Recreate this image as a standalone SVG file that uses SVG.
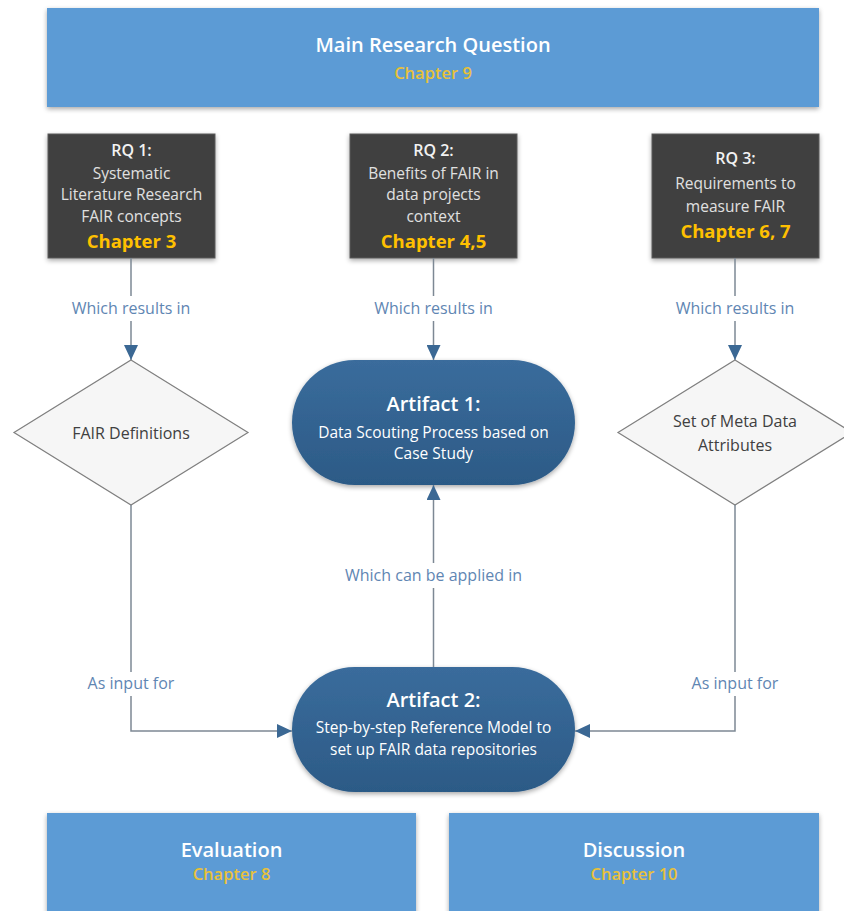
<svg xmlns="http://www.w3.org/2000/svg" width="844" height="911" viewBox="0 0 844 911">
  <defs>
    <filter id="shadow" x="-10%" y="-10%" width="120%" height="130%">
      <feGaussianBlur in="SourceAlpha" stdDeviation="2.5"/>
      <feOffset dx="0" dy="2" result="b"/>
      <feComponentTransfer><feFuncA type="linear" slope="0.35"/></feComponentTransfer>
      <feMerge><feMergeNode/><feMergeNode in="SourceGraphic"/></feMerge>
    </filter>
    <linearGradient id="artGrad" x1="0" y1="0" x2="0" y2="1">
      <stop offset="0" stop-color="#3a6c9c"/>
      <stop offset="1" stop-color="#2c5a86"/>
    </linearGradient>
    <marker id="arrow" markerWidth="15" markerHeight="14" refX="15" refY="7" orient="auto" markerUnits="userSpaceOnUse">
      <path d="M0,0 L15,7 L0,14 Z" fill="#3b6894"/>
    </marker>
    <style>
      .blue { fill: #5b9bd5; }
      .dark { fill: #404040; stroke: #5a5a5a; stroke-width: 1; }
      .diamond { fill: #f6f6f6; stroke: #7f7f7f; stroke-width: 1.2; }
      .art { fill: url(#artGrad); }
      .conn { fill: none; stroke: #7d8894; stroke-width: 1.5; }
      .t { font-family: "Open Sans", "Noto Sans", sans-serif; text-anchor: middle; }
      .head { font-size: 20px; font-weight: 600; fill: #ffffff; }
      .chap { font-size: 16.5px; font-weight: 600; fill: #e8c13a; }
      .rqh { font-size: 16px; font-weight: 600; fill: #f2f2f2; }
      .rq { font-size: 15.5px; fill: #e0e0e0; }
      .rqc { font-size: 18.5px; font-weight: bold; fill: #ffc000; }
      .artH { font-size: 20px; font-weight: 600; fill: #ffffff; }
      .artT { font-size: 15.5px; fill: #ffffff; }
      .lbl { font-size: 16px; fill: #5f86b3; }
      .dia { font-size: 16px; fill: #404040; }
    </style>
  </defs>

  <rect width="844" height="911" fill="#ffffff"/>

  <!-- Main research question -->
  <g id="main-question">
    <rect class="blue" x="47" y="8" width="772" height="99" filter="url(#shadow)"/>
    <text class="t head" x="433" y="52">Main Research Question</text>
    <text class="t chap" x="433" y="79">Chapter 9</text>
  </g>

  <!-- Sub research questions -->
  <g id="rq1">
    <rect class="dark" x="48" y="134" width="167" height="124" filter="url(#shadow)"/>
    <text class="t rqh" x="131.5" y="156">RQ 1:</text>
    <text class="t rq" x="131.5" y="179">Systematic</text>
    <text class="t rq" x="131.5" y="200">Literature Research</text>
    <text class="t rq" x="131.5" y="222">FAIR concepts</text>
    <text class="t rqc" x="131.5" y="248">Chapter 3</text>
  </g>
  <g id="rq2">
    <rect class="dark" x="350" y="134" width="167" height="124" filter="url(#shadow)"/>
    <text class="t rqh" x="433.5" y="156">RQ 2:</text>
    <text class="t rq" x="433.5" y="179">Benefits of FAIR in</text>
    <text class="t rq" x="433.5" y="200">data projects</text>
    <text class="t rq" x="433.5" y="222">context</text>
    <text class="t rqc" x="433.5" y="248">Chapter 4,5</text>
  </g>
  <g id="rq3">
    <rect class="dark" x="652" y="134" width="167" height="124" filter="url(#shadow)"/>
    <text class="t rqh" x="735.5" y="164">RQ 3:</text>
    <text class="t rq" x="735.5" y="189">Requirements to</text>
    <text class="t rq" x="735.5" y="212">measure FAIR</text>
    <text class="t rqc" x="735.5" y="238">Chapter 6, 7</text>
  </g>

  <!-- Outcomes -->
  <g id="fair-definitions">
    <polygon class="diamond" points="131,360 248,432.5 131,505 14,432.5"/>
    <text class="t dia" x="131" y="439">FAIR Definitions</text>
  </g>
  <g id="meta-data-attributes">
    <polygon class="diamond" points="735,360 852,432.5 735,505 618,432.5"/>
    <text class="t dia" x="735" y="427">Set of Meta Data</text>
    <text class="t dia" x="735" y="451">Attributes</text>
  </g>
  <g id="artifact1">
    <rect class="art" x="292" y="360" width="283" height="125" rx="62.5" ry="62.5" filter="url(#shadow)"/>
    <text class="t artH" x="433.5" y="411">Artifact 1:</text>
    <text class="t artT" x="433.5" y="438">Data Scouting Process based on</text>
    <text class="t artT" x="433.5" y="459">Case Study</text>
  </g>
  <g id="artifact2">
    <rect class="art" x="292" y="667" width="283" height="125" rx="62.5" ry="62.5" filter="url(#shadow)"/>
    <text class="t artH" x="433.5" y="707">Artifact 2:</text>
    <text class="t artT" x="433.5" y="733">Step-by-step Reference Model to</text>
    <text class="t artT" x="433.5" y="755">set up FAIR data repositories</text>
  </g>

  <!-- Evaluation and discussion -->
  <g id="evaluation">
    <rect class="blue" x="47" y="813" width="369" height="110" filter="url(#shadow)"/>
    <text class="t head" x="231.5" y="857">Evaluation</text>
    <text class="t chap" x="231.5" y="880">Chapter 8</text>
  </g>
  <g id="discussion">
    <rect class="blue" x="449" y="813" width="370" height="110" filter="url(#shadow)"/>
    <text class="t head" x="634" y="857">Discussion</text>
    <text class="t chap" x="634" y="880">Chapter 10</text>
  </g>

  <!-- Connectors -->
  <g id="connectors">
    <path class="conn" d="M131,258 V296"/>
    <path class="conn" d="M131,321 V360" marker-end="url(#arrow)"/>
    <path class="conn" d="M433.5,258 V296"/>
    <path class="conn" d="M433.5,321 V360" marker-end="url(#arrow)"/>
    <path class="conn" d="M735,258 V296"/>
    <path class="conn" d="M735,321 V360" marker-end="url(#arrow)"/>

    <path class="conn" d="M433.5,667 V588"/>
    <path class="conn" d="M433.5,563 V485" marker-end="url(#arrow)"/>

    <path class="conn" d="M131,505 V672"/>
    <path class="conn" d="M131,696 V731 H292" marker-end="url(#arrow)"/>
    <path class="conn" d="M735,505 V672"/>
    <path class="conn" d="M735,696 V731 H575" marker-end="url(#arrow)"/>

    <text class="t lbl" x="131" y="314">Which results in</text>
    <text class="t lbl" x="433.5" y="314">Which results in</text>
    <text class="t lbl" x="735" y="314">Which results in</text>
    <text class="t lbl" x="433.5" y="581">Which can be applied in</text>
    <text class="t lbl" x="131" y="689">As input for</text>
    <text class="t lbl" x="735" y="689">As input for</text>
  </g>
</svg>
